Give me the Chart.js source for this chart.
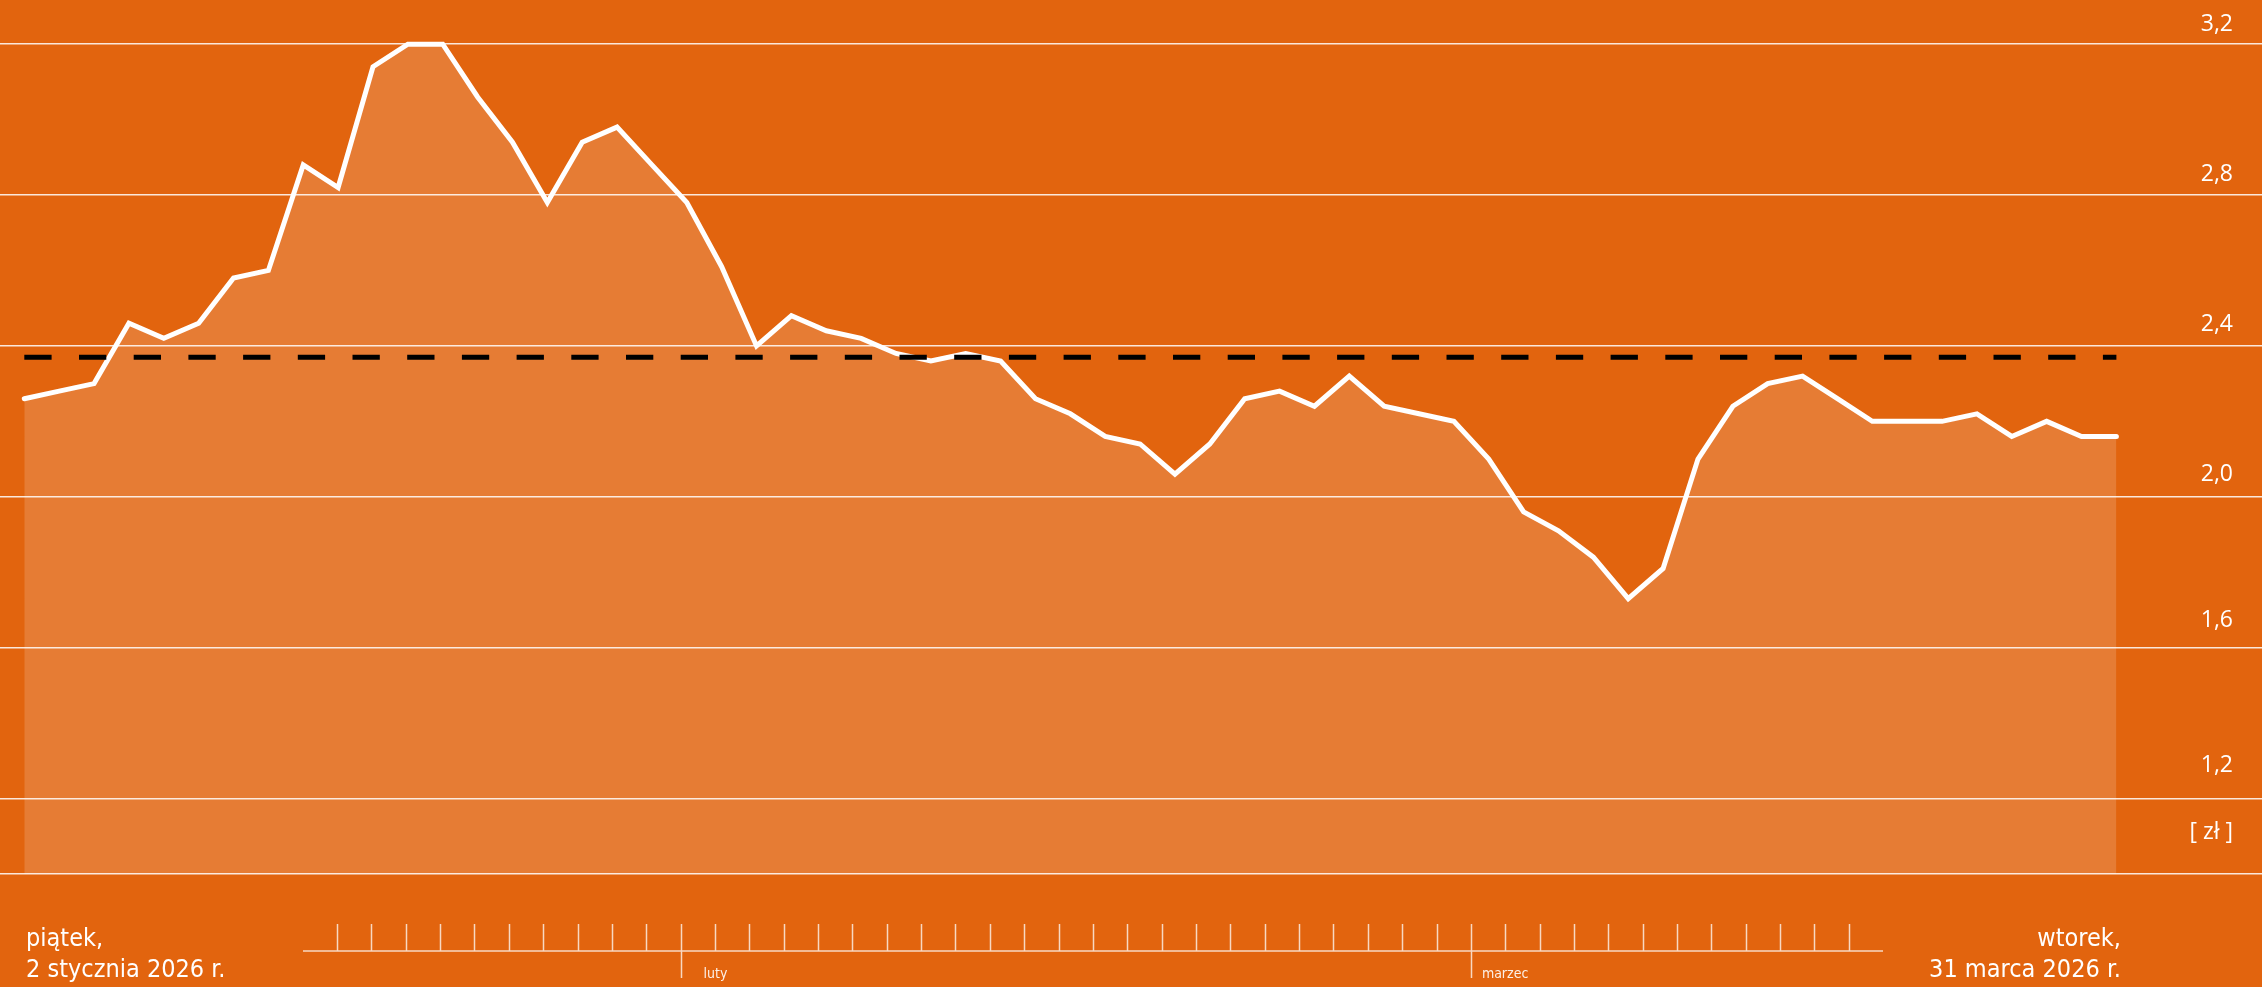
<!DOCTYPE html>
<html lang="pl">
<head>
<meta charset="utf-8">
<title>Notowania</title>
<script src="https://cdn.jsdelivr.net/npm/chart.js@4.4.1/dist/chart.umd.min.js"></script>
<style>
  html, body { margin: 0; padding: 0; background: #e2640e; overflow: hidden; }
  #wykres { display: block; }
</style>
</head>
<body>
<canvas id="wykres" width="2262" height="987"></canvas>
<script>
// notowania w zł, kolejne sesje od 2 stycznia do 31 marca 2026
const ceny = [
    2.26, 2.28, 2.30, 2.46, 2.42, 2.46, 2.58, 2.60, 2.88, 2.82,
    3.14, 3.20, 3.20, 3.06, 2.94, 2.78, 2.94, 2.98, 2.88, 2.78,
    2.61, 2.40, 2.48, 2.44, 2.42, 2.38, 2.36, 2.38, 2.36, 2.26,
    2.22, 2.16, 2.14, 2.06, 2.14, 2.26, 2.28, 2.24, 2.32, 2.24,
    2.22, 2.20, 2.10, 1.96, 1.91, 1.84, 1.73, 1.81, 2.10, 2.24,
    2.30, 2.32, 2.26, 2.20, 2.20, 2.20, 2.22, 2.16, 2.20, 2.16,
    2.16
];
const srednia = 2.37;

const wartosciOsiY = [1.0, 1.2, 1.6, 2.0, 2.4, 2.8, 3.2];
const etykietyOsiY = ['[ zł ]', '1,2', '1,6', '2,0', '2,4', '2,8', '3,2'];

const dataPoczatek = ['piątek,', '2 stycznia 2026 r.'];
const dataKoniec = ['wtorek,', '31 marca 2026 r.'];
const miesiace = ['luty', 'marzec'];
const kreskiMiesiecy = [10, 33];
const liczbaKresek = 45;

const fontWaski = '"Liberation Sans Narrow", "DejaVu Sans Condensed", "Roboto", sans-serif';

// podpisy osi Y, daty i mała oś czasu pod wykresem
const podpisyPlugin = {
    id: 'podpisy',
    afterDraw(chart) {
        const ctx = chart.ctx;
        const skalaY = chart.scales.y;
        ctx.save();

        // etykiety stoją nad liniami siatki (w oryginale nierówno)
        const odstepy = [42, 33, 27, 22, 21, 21, 20];
        ctx.fillStyle = '#ffffff';
        ctx.font = '23px "Open Sans", sans-serif';
        ctx.textAlign = 'right';
        ctx.textBaseline = 'middle';
        wartosciOsiY.forEach((v, i) => {
            const py = skalaY.getPixelForValue(v);
            ctx.fillText(etykietyOsiY[i], chart.width - 29, py - odstepy[i]);
        });

        ctx.font = '25px ' + fontWaski;
        ctx.textBaseline = 'alphabetic';
        ctx.textAlign = 'left';
        ctx.fillText(dataPoczatek[0], 26, 946);
        ctx.fillText(dataPoczatek[1], 26, 977);
        ctx.textAlign = 'right';
        ctx.fillText(dataKoniec[0], 2121, 946);
        ctx.fillText(dataKoniec[1], 2121, 977);

        // oś czasu
        const os = { x0: 303, x1: 1883, y: 951, start: 337, krok: 34.36 };
        ctx.strokeStyle = 'rgba(255,255,255,0.75)';
        ctx.lineWidth = 1.5;
        ctx.beginPath();
        ctx.moveTo(os.x0, os.y);
        ctx.lineTo(os.x1, os.y);
        for (let k = 0; k < liczbaKresek; k++) {
            const x = Math.round(os.start + k * os.krok) + 0.5;
            const dol = kreskiMiesiecy.includes(k) ? os.y + 27 : os.y;
            ctx.moveTo(x, os.y - 27);
            ctx.lineTo(x, dol);
        }
        ctx.stroke();

        ctx.fillStyle = 'rgba(255,255,255,0.9)';
        ctx.font = '14px ' + fontWaski;
        ctx.textAlign = 'left';
        const przesuniecia = [23, 11];
        kreskiMiesiecy.forEach((k, i) => {
            const x = os.start + k * os.krok;
            ctx.fillText(miesiace[i], x + przesuniecia[i], 978);
        });

        ctx.restore();
    }
};

const ctx = document.getElementById('wykres').getContext('2d');
const wykres = new Chart(ctx, {
    type: 'line',
    data: {
        datasets: [
            {
                label: 'średnia',
                data: [{ x: 0, y: srednia }, { x: ceny.length - 1, y: srednia }],
                borderColor: '#000000',
                borderWidth: 5,
                borderDash: [27.3, 27.4],
                borderCapStyle: 'butt',
                pointRadius: 0,
                fill: false
            },
            {
                label: 'cena',
                data: ceny.map((v, i) => ({ x: i, y: v })),
                borderColor: '#ffffff',
                borderWidth: 5,
                borderCapStyle: 'round',
                borderJoinStyle: 'miter',
                backgroundColor: 'rgba(255,255,255,0.16)',
                pointRadius: 0,
                tension: 0,
                fill: 'start'
            }
        ]
    },
    options: {
        responsive: false,
        animation: false,
        devicePixelRatio: 1,
        layout: { padding: { top: 0, left: 0, right: 0, bottom: 113 } },
        plugins: {
            legend: { display: false },
            tooltip: { enabled: false }
        },
        scales: {
            x: {
                type: 'linear',
                min: -0.697,
                max: 64.176,
                display: false
            },
            y: {
                position: 'right',
                min: 1.0,
                max: 3.317,
                afterBuildTicks: (skala) => {
                    skala.ticks = wartosciOsiY.map(v => ({ value: v }));
                },
                afterFit: (skala) => { skala.width = 0; },
                grid: {
                    color: 'rgba(255,255,255,0.85)',
                    lineWidth: 1.5,
                    drawTicks: false
                },
                border: { display: false },
                ticks: { display: false }
            }
        }
    },
    plugins: [podpisyPlugin]
});
</script>
</body>
</html>
